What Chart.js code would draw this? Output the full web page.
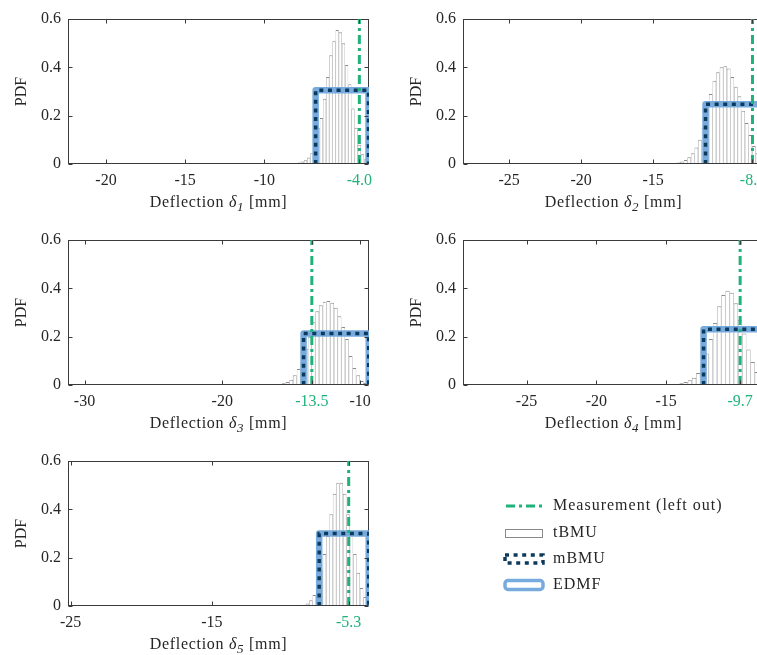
<!DOCTYPE html>
<html>
<head>
<meta charset="utf-8">
<title>Deflection PDFs</title>
<script src="https://cdn.jsdelivr.net/npm/chart.js@4.4.1/dist/chart.umd.min.js"></script>
<style>
  html, body { margin: 0; padding: 0; background: #fff; }
  #fig { position: relative; width: 757px; height: 655px; overflow: hidden; }
  #fig canvas { position: absolute; }
</style>
</head>
<body>
<div id="fig">
  <canvas id="p1" width="380" height="221" style="left:0;top:0;width:380px;height:221px"></canvas>
  <canvas id="p2" width="380" height="221" style="left:395px;top:0;width:380px;height:221px"></canvas>
  <canvas id="p3" width="380" height="221" style="left:0;top:221px;width:380px;height:221px"></canvas>
  <canvas id="p4" width="380" height="221" style="left:395px;top:221px;width:380px;height:221px"></canvas>
  <canvas id="p5" width="757" height="213" style="left:0;top:442px;width:757px;height:213px"></canvas>
</div>
<script>
// ---- data -------------------------------------------------------------
const sensorIndex = ['1', '2', '3', '4', '5'];
const measurement = [-4.0, -8.1, -13.5, -9.7, -5.3];   // left-out measurement [mm]

// x-axis ranges and tick values per sensor
const xMin = [-22.4, -28.2, -31.2, -29.55, -25.19];
const xMax = [-3.39, -7.3, -9.35, -7.99, -3.86];
const xTicks1 = [-20, -15, -10, -4.0];
const xTicks2 = [-25, -20, -15, -8.1];
const xTicks3 = [-30, -20, -13.5, -10];
const xTicks4 = [-25, -20, -15, -9.7];
const xTicks5 = [-25, -15, -5.3];
const yTicks = [0, 0.2, 0.4, 0.6];

// uniform posterior (mBMU and EDMF coincide): bounds and density
const uniformLower = [-6.76, -11.36, -14.1, -12.32, -7.39];
const uniformUpper = [-3.42, -7.3, -9.37, -7.99, -3.88];
const uniformDensity = [0.305, 0.247, 0.213, 0.231, 0.300];

// tBMU histograms: bin centres [mm] and densities
const tbmuCenters1 = [-8.6, -8.4, -8.2, -8.0, -7.8, -7.6, -7.4, -7.2, -7.0, -6.8, -6.6, -6.4, -6.2, -6.0, -5.8, -5.6, -5.4, -5.2, -5.0, -4.8, -4.6, -4.4, -4.2, -4.0, -3.8, -3.6];
const tbmuDensity1 = [0.001, 0.002, 0.003, 0.004, 0.006, 0.010, 0.016, 0.027, 0.045, 0.078, 0.150, 0.190, 0.270, 0.360, 0.450, 0.510, 0.555, 0.545, 0.500, 0.410, 0.330, 0.230, 0.150, 0.080, 0.040, 0.020];

const tbmuCenters2 = [-14.5, -14.25, -14.0, -13.75, -13.5, -13.25, -13.0, -12.75, -12.5, -12.25, -12.0, -11.75, -11.5, -11.25, -11.0, -10.75, -10.5, -10.25, -10.0, -9.75, -9.5, -9.25, -9.0, -8.75, -8.5, -8.25, -8.0, -7.75, -7.5];
const tbmuDensity2 = [0.0005, 0.001, 0.0015, 0.002, 0.004, 0.006, 0.010, 0.017, 0.028, 0.044, 0.068, 0.100, 0.150, 0.225, 0.290, 0.345, 0.380, 0.400, 0.405, 0.395, 0.360, 0.320, 0.280, 0.220, 0.170, 0.120, 0.075, 0.045, 0.025];

const tbmuCenters3 = [-17.43, -17.16, -16.89, -16.62, -16.35, -16.08, -15.81, -15.54, -15.27, -15.0, -14.73, -14.46, -14.19, -13.92, -13.65, -13.38, -13.11, -12.84, -12.57, -12.30, -12.03, -11.76, -11.49, -11.22, -10.95, -10.68, -10.41, -10.14, -9.87, -9.6];
const tbmuDensity3 = [0.0005, 0.0005, 0.001, 0.001, 0.002, 0.003, 0.004, 0.007, 0.012, 0.022, 0.040, 0.066, 0.095, 0.150, 0.200, 0.260, 0.305, 0.330, 0.345, 0.348, 0.340, 0.320, 0.285, 0.240, 0.190, 0.120, 0.070, 0.040, 0.017, 0.008];

const tbmuCenters4 = [-15.4, -15.1, -14.8, -14.5, -14.2, -13.9, -13.6, -13.3, -13.0, -12.7, -12.4, -12.1, -11.8, -11.5, -11.2, -10.9, -10.6, -10.3, -10.0, -9.7, -9.4, -9.1, -8.8, -8.5, -8.2];
const tbmuDensity4 = [0.001, 0.001, 0.002, 0.003, 0.004, 0.007, 0.012, 0.020, 0.030, 0.050, 0.082, 0.130, 0.190, 0.257, 0.326, 0.372, 0.390, 0.382, 0.338, 0.270, 0.213, 0.147, 0.095, 0.054, 0.030];

const tbmuCenters5 = [-9.42, -9.18, -8.94, -8.70, -8.46, -8.22, -7.98, -7.74, -7.50, -7.26, -7.02, -6.78, -6.54, -6.30, -6.06, -5.82, -5.58, -5.34, -5.10, -4.86, -4.62, -4.38, -4.14, -3.90];
const tbmuDensity5 = [0.001, 0.001, 0.002, 0.003, 0.005, 0.010, 0.024, 0.046, 0.083, 0.150, 0.215, 0.290, 0.380, 0.464, 0.510, 0.510, 0.464, 0.380, 0.300, 0.215, 0.138, 0.075, 0.037, 0.015];

const legendLabels = ['Measurement (left out)', 'tBMU', 'mBMU', 'EDMF'];

// ---- styling ----------------------------------------------------------
const FONT_FAMILY = "'Liberation Serif', 'Times New Roman', serif";
const INK = '#262626';
const AXIS = '#3a3a3a';
const GREEN = '#1fb27a';
const NAVY = '#0c3a5c';
const LIGHT_BLUE = '#78abdd';
const BAR_EDGE = '#8a8a8a';
const MEAS_DASH = [9, 4, 3, 4];
const MBMU_DASH = [4, 4.6];

const panels = [
  { centers: tbmuCenters1, density: tbmuDensity1, ticks: xTicks1 },
  { centers: tbmuCenters2, density: tbmuDensity2, ticks: xTicks2 },
  { centers: tbmuCenters3, density: tbmuDensity3, ticks: xTicks3 },
  { centers: tbmuCenters4, density: tbmuDensity4, ticks: xTicks4 },
  { centers: tbmuCenters5, density: tbmuDensity5, ticks: xTicks5 }
];

// axis frame, inward ticks, axis titles and (optionally) the legend
const decorPlugin = {
  id: 'decor',
  beforeDatasetsDraw(chart) {
    const { ctx, chartArea: a } = chart;
    ctx.save();
    ctx.strokeStyle = AXIS;
    ctx.lineWidth = 1;
    const L = Math.round(a.left) + 0.5, R = Math.round(a.right) - 0.5;
    const T = Math.round(a.top) + 0.5, B = Math.round(a.bottom) - 0.5;
    ctx.strokeRect(L, T, R - L, B - T);
    ctx.restore();
  },
  afterDatasetsDraw(chart) {
    const { ctx, chartArea: a, scales: { x, y } } = chart;
    const L = Math.round(a.left) + 0.5, R = Math.round(a.right) - 0.5;
    const T = Math.round(a.top) + 0.5, B = Math.round(a.bottom) - 0.5;
    ctx.save();
    ctx.strokeStyle = AXIS;
    ctx.lineWidth = 1;
    ctx.beginPath();
    ctx.moveTo(L, B); ctx.lineTo(R, B);
    x.ticks.forEach(t => {
      const px = Math.round(x.getPixelForValue(t.value)) + 0.5;
      ctx.moveTo(px, B); ctx.lineTo(px, B - 4);
      ctx.moveTo(px, T); ctx.lineTo(px, T + 4);
    });
    y.ticks.forEach(t => {
      const py = Math.round(y.getPixelForValue(t.value)) + 0.5;
      ctx.moveTo(L, py); ctx.lineTo(L + 4, py);
      ctx.moveTo(R, py); ctx.lineTo(R - 4, py);
    });
    ctx.stroke();
    ctx.restore();
  },
  afterDraw(chart, args, opts) {
    const { ctx, chartArea: a } = chart;
    ctx.save();
    ctx.fillStyle = INK;
    // y title
    ctx.font = `16px ${FONT_FAMILY}`;
    ctx.textAlign = 'center';
    ctx.textBaseline = 'middle';
    ctx.save();
    ctx.translate(a.left - 46, (a.top + a.bottom) / 2);
    ctx.rotate(-Math.PI / 2);
    ctx.fillText('PDF', 0, 0);
    ctx.restore();
    // x title: Deflection δ_i [mm]
    ctx.save();
    if ('letterSpacing' in ctx) ctx.letterSpacing = '0.7px';
    const parts = [
      { t: 'Deflection ', f: `16px ${FONT_FAMILY}`, dy: 0 },
      { t: 'δ', f: `italic 16px ${FONT_FAMILY}`, dy: 0 },
      { t: opts.sub, f: `italic 13px ${FONT_FAMILY}`, dy: 4 },
      { t: ' [mm]', f: `16px ${FONT_FAMILY}`, dy: 0 }
    ];
    let total = 0;
    parts.forEach(p => { ctx.font = p.f; p.w = ctx.measureText(p.t).width; total += p.w; });
    let cx = (a.left + a.right) / 2 - total / 2;
    const base = a.bottom + 43;
    ctx.textAlign = 'left';
    ctx.textBaseline = 'alphabetic';
    parts.forEach(p => { ctx.font = p.f; ctx.fillText(p.t, cx, base + p.dy); cx += p.w; });
    ctx.restore();

    if (opts.legend) {
      const lx0 = 505, lx1 = 543, tx = 553;
      const rows = [64, 91, 117, 143];
      ctx.save();
      if ('letterSpacing' in ctx) ctx.letterSpacing = '1px';
      ctx.font = `16px ${FONT_FAMILY}`;
      ctx.textAlign = 'left';
      ctx.textBaseline = 'middle';
      ctx.fillStyle = INK;
      legendLabels.forEach((s, i) => ctx.fillText(s, tx, rows[i]));
      ctx.restore();
      // measurement
      ctx.save();
      ctx.strokeStyle = GREEN; ctx.lineWidth = 3; ctx.setLineDash(MEAS_DASH);
      ctx.beginPath(); ctx.moveTo(lx0 + 1, rows[0]); ctx.lineTo(lx1, rows[0]); ctx.stroke();
      ctx.restore();
      // tBMU
      ctx.save();
      ctx.strokeStyle = BAR_EDGE; ctx.lineWidth = 1; ctx.fillStyle = '#fff';
      ctx.fillRect(lx0, rows[1] - 4, lx1 - lx0, 8);
      ctx.strokeRect(lx0 + 0.5, rows[1] - 3.5, lx1 - lx0 - 1, 8);
      ctx.restore();
      // mBMU
      ctx.save();
      ctx.strokeStyle = NAVY; ctx.lineWidth = 3.5; ctx.setLineDash(MBMU_DASH);
      ctx.strokeRect(lx0, rows[2] - 4, lx1 - lx0, 8);
      ctx.restore();
      // EDMF
      ctx.save();
      ctx.strokeStyle = LIGHT_BLUE; ctx.lineWidth = 3.5; ctx.lineJoin = 'round';
      ctx.beginPath();
      if (ctx.roundRect) ctx.roundRect(lx0, rows[3] - 4.5, lx1 - lx0, 9, 3);
      else ctx.rect(lx0, rows[3] - 4.5, lx1 - lx0, 9);
      ctx.stroke();
      ctx.restore();
    }
    ctx.restore();
  }
};

function fmtTick(v, meas) {
  if (Math.abs(v - meas) < 1e-9) return meas.toFixed(1);
  return String(v);
}

function makePanel(k) {
  const p = panels[k];
  const meas = measurement[k];
  const lo = uniformLower[k], hi = uniformUpper[k], dens = uniformDensity[k];
  const canvas = document.getElementById('p' + (k + 1));
  const W = canvas.width, H = canvas.height;
  const plotBottom = 164;
  const boxPath = [{ x: lo, y: 0 }, { x: lo, y: dens }, { x: hi, y: dens }, { x: hi, y: 0 }];

  return new Chart(canvas, {
    type: 'bar',
    data: {
      datasets: [
        {
          type: 'line', label: legendLabels[0], order: 1,
          data: [{ x: meas, y: 0 }, { x: meas, y: 0.6 }],
          borderColor: GREEN, borderWidth: 3, borderDash: MEAS_DASH,
          pointRadius: 0, fill: false
        },
        {
          type: 'line', label: legendLabels[2], order: 2,
          data: boxPath,
          borderColor: NAVY, borderWidth: 3.5, borderDash: MBMU_DASH,
          borderJoinStyle: 'miter', pointRadius: 0, fill: false
        },
        {
          type: 'line', label: legendLabels[3], order: 3,
          data: boxPath,
          borderColor: LIGHT_BLUE, borderWidth: 6.5, borderJoinStyle: 'round',
          pointRadius: 0, fill: false
        },
        {
          type: 'bar', label: legendLabels[1], order: 4,
          data: p.centers.map((c, i) => ({ x: c, y: p.density[i] })),
          backgroundColor: '#ffffff', borderColor: BAR_EDGE,
          // half-width side borders of neighbouring bins meet as one thin line
          borderWidth: { left: 0.6, right: 0.6, top: 1, bottom: 0 },
          borderSkipped: false, inflateAmount: 0,
          barPercentage: 1, categoryPercentage: 1
        }
      ]
    },
    options: {
      responsive: false,
      animation: false,
      devicePixelRatio: 1,
      events: [],
      layout: { padding: { top: 19, right: W - 369, left: 0, bottom: 0 } },
      plugins: {
        legend: { display: false },
        tooltip: { enabled: false },
        decor: { sub: sensorIndex[k], legend: k === 4 }
      },
      scales: {
        x: {
          type: 'linear', min: xMin[k], max: xMax[k], offset: false,
          grid: { display: false, drawTicks: false },
          border: { display: false },
          afterBuildTicks: s => { s.ticks = p.ticks.map(v => ({ value: v })); },
          afterFit: s => { s.height = H - plotBottom; },
          ticks: {
            autoSkip: false, maxRotation: 0, minRotation: 0, padding: 7,
            font: { family: FONT_FAMILY, size: 16 },
            color: c => (c.tick && Math.abs(c.tick.value - meas) < 1e-9) ? GREEN : INK,
            callback: v => fmtTick(v, meas)
          }
        },
        y: {
          min: 0, max: 0.6,
          grid: { display: false, drawTicks: false },
          border: { display: false },
          afterBuildTicks: s => { s.ticks = yTicks.map(v => ({ value: v })); },
          afterFit: s => { s.width = 68; },
          ticks: {
            padding: 7,
            font: { family: FONT_FAMILY, size: 16 },
            color: INK,
            callback: v => (v === 0 ? '0' : v.toFixed(1))
          }
        }
      }
    },
    plugins: [decorPlugin]
  });
}

[0, 1, 2, 3, 4].forEach(makePanel);
</script>
</body>
</html>
